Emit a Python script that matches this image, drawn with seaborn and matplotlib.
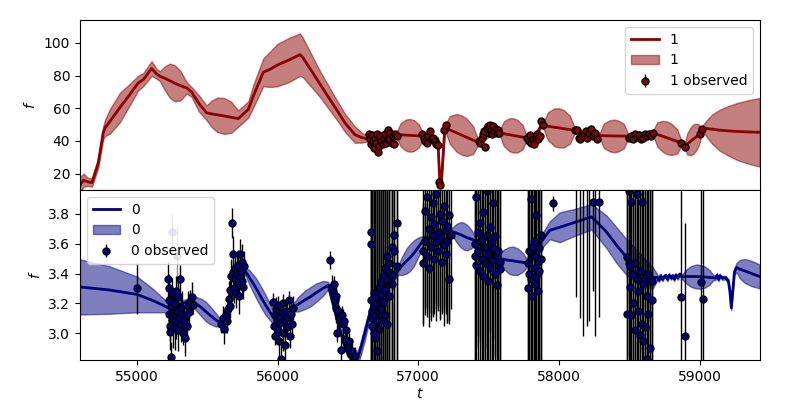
import numpy as np
import matplotlib
matplotlib.use("Agg")
import matplotlib.pyplot as plt
import seaborn as sns

# ---- series "1" (top panel): GP mean, 1-sigma width, observations ----
mean1_t = [54595, 54620, 54650, 54680, 54725, 54760, 54773, 54808, 54879, 54950,
           55009, 55045, 55104, 55140, 55163, 55200, 55235, 55270, 55310, 55353,
           55388, 55440, 55495, 55530, 55570, 55620, 55670, 55720, 55791, 55830,
           55898, 55950, 56000, 56080, 56159, 56180, 56240, 56300, 56360, 56419,
           56480, 56549, 56600, 56640, 56750, 56846, 56874, 56911, 56940, 56968,
           57005, 57033, 57139, 57153, 57165, 57189, 57225, 57272, 57308, 57343,
           57390, 57426, 57500, 57580, 57608, 57646, 57675, 57704, 57742, 57770,
           57830, 57876, 57888, 57922, 57967, 58000, 58034, 58079, 58113, 58200,
           58290, 58320, 58361, 58391, 58421, 58462, 58492, 58580, 58670, 58700,
           58740, 58770, 58800, 58841, 58871, 58895, 58913, 58937, 58954, 58971,
           58995, 59013, 59022, 59050, 59090, 59143, 59200, 59270, 59350, 59428]
mean1_f = [13, 16, 15, 14.5, 26.6, 45, 48, 52, 60.5, 68.5,
           75.5, 77.5, 84.3, 81, 79.6, 78.3, 76.8, 75.3, 73.8, 72.5,
           70, 63, 57.2, 56.6, 56, 55.3, 54.5, 53.7, 59.2, 68,
           82, 84, 86.5, 89.5, 92.8, 91, 83, 75, 67, 59.2,
           51, 43.9, 42, 41.3, 41.5, 43.9, 43.75, 43.6, 43.45, 43.3,
           43.1, 42.9, 41, 15.3, 15.5, 48, 46.7, 45, 43.6, 42.3,
           40.5, 39.2, 44, 44.9, 44.45, 43.85, 43.4, 42.95, 42.35, 41.9,
           42, 50, 49.5, 49, 48.4, 48, 47.5, 46.9, 46.4, 44.5,
           43.3, 43.2, 43.1, 43.1, 43, 43, 42.9, 44, 44.9, 44,
           42.8, 41.9, 41, 39.7, 38.8, 37, 38.2, 39.8, 41, 42.1,
           43.7, 44.9, 47.9, 47.6, 47.2, 46.6, 46.2, 45.8, 45.5, 45.3]
sd1 = [5, 4, 2.5, 2.5, 3, 4, 5, 7.5, 9, 6.5,
       4.5, 4, 4.5, 3, 3, 7.5, 10.5, 11, 9, 3.5,
       3, 5, 4.5, 8, 10.5, 11, 9.5, 5, 5, 7,
       8.5, 11, 13, 13.5, 13, 12, 10, 8, 7, 6,
       5.5, 5, 3, 1.5, 1.5, 1.5, 7, 9.5, 10, 9.5,
       7, 1.5, 1.5, 1.5, 1.5, 1.5, 8.5, 11.5, 12, 11.5,
       8.5, 1.5, 1.5, 1.5, 7.5, 10, 10.5, 10, 7.5, 1.5,
       1.5, 1.5, 1.5, 8.5, 11.5, 12, 11.5, 8.5, 1.5, 1.5,
       1.5, 7.5, 9.5, 10, 9.5, 7.5, 1.5, 1.5, 1.5, 7.5,
       9.5, 10, 9.5, 7.5, 1.5, 1.5, 6.5, 8.5, 9, 8.5,
       6.5, 1.5, 1.5, 5, 9, 12.5, 15, 17.5, 19.5, 21]

obs1_t = [56650, 56658, 56665, 56672, 56680, 56688, 56695, 56702, 56710, 56716,
          56722, 56730, 56738, 56746, 56754, 56762, 56770, 56778, 56786, 56794,
          56802, 56810, 56818, 56826, 56836, 56846,
          57030, 57040, 57050, 57060, 57072, 57082, 57092, 57104, 57116, 57128,
          57138, 57150, 57158, 57180, 57195,
          57430, 57440, 57450, 57460, 57470, 57478, 57486, 57494, 57502, 57510,
          57518, 57526, 57534, 57542, 57550, 57558, 57566, 57576,
          57775, 57785, 57795, 57805, 57815, 57825, 57835, 57845, 57855, 57866,
          57876, 57888,
          58118, 58128, 58140, 58152, 58165, 58178, 58190, 58202, 58214, 58226,
          58240, 58255, 58272,
          58500, 58514, 58528, 58542, 58556, 58570, 58584, 58598, 58612, 58626,
          58640, 58654, 58666,
          58870, 58895, 59005, 59020]
obs1_f = [44, 41, 38, 43.5, 40, 36, 42, 39, 44, 33,
          37, 43, 40, 38, 42, 44.5, 39, 41, 46.5, 41,
          45, 39, 43, 38, 44, 43,
          44, 42, 40, 39, 43, 46, 41, 42, 40, 38,
          37.5, 15, 13, 47, 49.5,
          40, 38.5, 42, 44, 46, 36.5, 48, 49, 45, 50,
          47, 44, 49, 46, 47.5, 45, 46.5, 45,
          42, 40, 43.5, 39, 41, 38, 42, 44, 41, 43,
          52, 49.5,
          46.5, 47, 42, 41, 43, 44.5, 46, 42, 45, 47.5,
          43, 45, 41.5,
          42, 43, 41, 44, 42.5, 43.5, 41, 42, 44, 43,
          44.5, 43, 45,
          38.5, 36.5, 44, 47.5]
obs1_err = [1.5, 1.5, 2, 1.5, 1.5, 2, 1.5, 4, 1.5, 2,
            1.5, 1.5, 2, 1.5, 1.5, 1.5, 2, 1.5, 1.5, 1.5,
            1.5, 2, 1.5, 1.5, 1.5, 1.5,
            1.5, 1.5, 1.5, 1.5, 1.5, 1.5, 1.5, 1.5, 1.5, 1.5,
            1.5, 1.5, 1.5, 1.5, 1.5,
            1.5, 1.5, 1.5, 1.5, 1.5, 1.5, 1.5, 1.5, 1.5, 1.5,
            1.5, 1.5, 1.5, 1.5, 1.5, 1.5, 1.5, 1.5,
            1.5, 1.5, 1.5, 1.5, 1.5, 1.5, 1.5, 1.5, 1.5, 1.5,
            1.5, 1.5,
            1.5, 1.5, 1.5, 1.5, 1.5, 1.5, 1.5, 1.5, 1.5, 1.5,
            1.5, 1.5, 1.5,
            1.5, 1.5, 1.5, 1.5, 1.5, 2.5, 1.5, 1.5, 1.5, 1.5,
            1.5, 1.5, 1.5,
            1.5, 1.5, 1.5, 1.5]

# ---- series "0" (bottom panel) ----
mean0_t = [54595, 54800, 55000, 55110, 55180, 55220, 55300, 55390, 55420, 55460,
           55490, 55520, 55560, 55590, 55680, 55768, 55802, 55848, 55880, 55914,
           55960, 55995, 56050, 56110, 56148, 56198, 56235, 56272, 56322, 56360,
           56420, 56480, 56540, 56580, 56620, 56668, 56760, 56857, 56883, 56918,
           56945, 56972, 57007, 57033, 57140, 57246, 57270, 57302, 57325, 57348,
           57380, 57402, 57490, 57580, 57608, 57646, 57675, 57704, 57742, 57770,
           57850, 57935, 58006, 58120, 58232, 58338, 58410, 58480, 58580, 58668,
           58700, 58712, 58724, 58736, 58748, 58760, 58772, 58784, 58796, 58808,
           58820, 58832, 58845, 58858, 58875, 58910, 58940, 58975, 59005, 59040,
           59070, 59096, 59115, 59125, 59135, 59145, 59160, 59185, 59205, 59216,
           59226, 59236, 59248, 59262, 59285, 59320, 59370, 59428]
mean0_f = [3.31, 3.29, 3.26, 3.22, 3.19, 3.17, 3.19, 3.22, 3.198, 3.17,
           3.145, 3.12, 3.09, 3.07, 3.25, 3.42, 3.37, 3.30, 3.245, 3.19,
           3.12, 3.07, 3.12, 3.17, 3.195, 3.225, 3.245, 3.27, 3.30, 3.32,
           3.10, 2.90, 2.80, 2.86, 3.00, 3.18, 3.30, 3.42, 3.45, 3.485,
           3.51, 3.54, 3.585, 3.62, 3.66, 3.68, 3.672, 3.66, 3.65, 3.64,
           3.63, 3.62, 3.56, 3.50, 3.495, 3.488, 3.485, 3.48, 3.475, 3.47,
           3.58, 3.69, 3.71, 3.745, 3.78, 3.68, 3.59, 3.51, 3.43, 3.37,
           3.375, 3.355, 3.385, 3.36, 3.378, 3.388, 3.36, 3.39, 3.37, 3.385,
           3.362, 3.39, 3.37, 3.395, 3.378, 3.38, 3.38, 3.38, 3.378, 3.376,
           3.374, 3.372, 3.37, 3.39, 3.36, 3.385, 3.37, 3.372, 3.35, 3.28,
           3.17, 3.28, 3.41, 3.44, 3.43, 3.418, 3.40, 3.38]
sd0 = [0.185, 0.16, 0.12, 0.08, 0.05, 0.03, 0.02, 0.025, 0.045, 0.06,
       0.065, 0.06, 0.045, 0.025, 0.02, 0.025, 0.05, 0.067, 0.07, 0.067,
       0.05, 0.025, 0.02, 0.025, 0.05, 0.062, 0.065, 0.062, 0.05, 0.025,
       0.02, 0.02, 0.03, 0.045, 0.05, 0.03, 0.03, 0.03, 0.06, 0.085,
       0.09, 0.085, 0.06, 0.03, 0.03, 0.03, 0.06, 0.085, 0.09, 0.085,
       0.06, 0.03, 0.03, 0.03, 0.065, 0.09, 0.095, 0.09, 0.065, 0.03,
       0.04, 0.06, 0.10, 0.09, 0.085, 0.11, 0.12, 0.12, 0.10, 0.07,
       0.02, 0.012, 0.012, 0.012, 0.012, 0.012, 0.012, 0.012, 0.012, 0.012,
       0.012, 0.012, 0.012, 0.012, 0.015, 0.05, 0.07, 0.08, 0.08, 0.07,
       0.05, 0.02, 0.012, 0.012, 0.012, 0.012, 0.012, 0.012, 0.012, 0.012,
       0.015, 0.015, 0.02, 0.03, 0.06, 0.08, 0.085, 0.08]

obs0_t = [55000,
          # season around 55300
          55222, 55225, 55228, 55230, 55233, 55236, 55240, 55243, 55247, 55250,
          55255, 55260, 55264, 55268, 55272, 55276, 55280, 55285, 55290, 55295,
          55300, 55305, 55310, 55315, 55320, 55328, 55335, 55342, 55350, 55358,
          55365, 55372, 55380, 55388, 55395,
          # 55700
          55600, 55610, 55620, 55630, 55640, 55650, 55655, 55660, 55665, 55670,
          55675, 55680, 55685, 55690, 55695, 55700, 55705, 55710, 55715, 55720,
          55725, 55730, 55735, 55740, 55745, 55750, 55755, 55760,
          # 56050
          55965, 55972, 55978, 55984, 55990, 55995, 56000, 56005, 56010, 56015,
          56020, 56025, 56030, 56035, 56040, 56046, 56052, 56058, 56064, 56070,
          56078, 56085, 56092, 56100, 56108,
          # 56450
          56370, 56385, 56392, 56398, 56405, 56412, 56418, 56425, 56432, 56440,
          56448, 56455, 56462, 56470, 56478, 56486, 56494, 56502, 56510, 56520,
          56530, 56540, 56550,
          # 56750
          56662, 56662, 56662, 56672, 56672, 56672, 56684, 56684, 56684, 56695,
          56695, 56695, 56708, 56708, 56708, 56720, 56720, 56720, 56734, 56734,
          56734, 56748, 56748, 56748, 56762, 56762, 56762, 56778, 56778, 56778,
          56795, 56795, 56795, 56812, 56812, 56812, 56830, 56830, 56848, 56848,
          # 57130
          57035, 57035, 57048, 57048, 57062, 57062, 57075, 57075, 57088, 57088,
          57102, 57102, 57115, 57115, 57128, 57128, 57142, 57142, 57155, 57155,
          57168, 57168, 57182, 57182, 57195, 57195, 57208, 57208, 57222, 57222,
          57236,
          # 57500
          57402, 57402, 57414, 57414, 57426, 57426, 57438, 57438, 57450, 57450,
          57462, 57462, 57474, 57474, 57486, 57486, 57498, 57498, 57510, 57510,
          57522, 57522, 57534, 57534, 57546, 57546, 57558, 57558, 57570, 57570,
          57582, 57582,
          # 57830
          57780, 57780, 57790, 57790, 57800, 57800, 57810, 57810, 57820, 57820,
          57830, 57830, 57840, 57840, 57850, 57850, 57860, 57860, 57870, 57870,
          57957,
          # 58200
          58125, 58150, 58172, 58200, 58215, 58240, 58255, 58286,
          # 58580
          58485, 58485, 58495, 58495, 58505, 58505, 58516, 58516, 58528, 58528,
          58540, 58540, 58552, 58552, 58564, 58564, 58576, 58576, 58588, 58588,
          58600, 58600, 58612, 58612, 58624, 58624, 58636, 58636, 58648, 58648,
          58660, 58660,
          58871, 58895, 59013, 59022]
obs0_f = [3.30,
          3.36, 3.30, 3.22, 3.13, 3.05, 3.01, 2.84, 3.18, 3.27, 3.09,
          3.10, 3.14, 3.20, 3.04, 3.12, 3.28, 3.08, 3.15, 3.02, 3.24,
          3.11, 3.36, 3.06, 3.17, 3.13, 3.00, 3.09, 2.97, 3.12, 3.05,
          3.18, 3.14, 3.21, 3.24, 3.19,
          3.06, 3.10, 3.03, 3.12, 3.08, 3.16, 3.23, 3.18, 3.29, 3.38,
          3.74, 3.53, 3.41, 3.30, 3.36, 3.44, 3.27, 3.40, 3.33, 3.46,
          3.25, 3.38, 3.53, 3.42, 3.35, 3.48, 3.31, 3.45,
          3.21, 3.05, 3.12, 2.98, 3.16, 3.08, 3.02, 3.19, 2.95, 3.11,
          3.07, 2.83, 3.14, 3.00, 3.20, 3.09, 2.92, 3.15, 3.04, 3.10,
          3.22, 2.98, 3.13, 3.06, 3.17,
          3.49, 3.31, 3.28, 3.33, 3.22, 3.25, 3.17, 3.00, 3.15, 3.10,
          2.89, 3.12, 3.06, 3.08, 2.96, 3.02, 2.93, 2.90, 2.95, 2.86,
          2.88, 2.84, 2.85,
          3.68, 3.60, 3.22, 3.10, 3.15, 3.05, 3.27, 3.00, 3.18, 3.12,
          2.97, 3.24, 3.08, 3.20, 2.88, 3.14, 3.30, 3.03, 3.26, 3.16,
          3.34, 3.09, 3.21, 3.38, 3.12, 3.44, 3.29, 3.06, 3.36, 3.52,
          3.25, 3.41, 3.47, 3.33, 3.58, 3.39, 3.55, 3.66, 3.45, 3.74,
          3.55, 3.47, 3.82, 3.62, 3.91, 3.52, 3.70, 3.44, 3.78, 3.58,
          3.66, 3.87, 3.50, 3.73, 3.61, 3.93, 3.68, 3.55, 3.80, 3.64,
          3.48, 3.75, 3.59, 3.85, 3.69, 3.53, 3.72, 3.62, 3.79, 3.36,
          3.66,
          3.52, 3.60, 3.46, 3.91, 3.68, 3.55, 3.42, 3.74, 3.63, 3.50,
          3.38, 3.81, 3.58, 3.47, 3.66, 3.95, 3.53, 3.35, 3.71, 3.44,
          3.61, 3.49, 3.87, 3.57, 3.40, 3.65, 3.52, 3.32, 3.46, 3.55,
          3.43, 3.48,
          3.47, 3.30, 3.55, 3.40, 3.90, 3.36, 3.58, 3.25, 3.44, 3.62,
          3.33, 3.52, 3.38, 3.79, 3.48, 3.28, 3.57, 3.42, 3.66, 3.50,
          3.87,
          4.20, 4.30, 4.10, 4.25, 4.15, 3.88, 4.30, 3.88,
          3.51, 3.13, 3.47, 3.95, 3.31, 3.45, 3.88, 3.12, 3.40, 3.20,
          3.47, 3.02, 3.36, 3.93, 3.28, 3.15, 2.99, 3.42, 3.06, 3.88,
          3.33, 2.95, 3.37, 3.04, 3.25, 2.83, 3.40, 3.13, 2.90, 3.37,
          3.22, 3.35,
          3.24, 2.98, 3.34, 3.23]
obs0_err = [0.17,
            0.12, 0.10, 0.15, 0.08, 0.10, 0.12, 0.10, 0.14, 0.10, 0.08,
            0.20, 0.12, 0.10, 0.15, 0.08, 0.10, 0.12, 0.10, 0.14, 0.10,
            0.08, 0.10, 0.12, 0.10, 0.15, 0.08, 0.10, 0.12, 0.10, 0.08,
            0.10, 0.12, 0.08, 0.10, 0.06,
            0.06, 0.08, 0.10, 0.06, 0.08, 0.10, 0.12, 0.08, 0.10, 0.12,
            0.10, 0.12, 0.08, 0.10, 0.12, 0.08, 0.10, 0.15, 0.08, 0.10,
            0.12, 0.08, 0.10, 0.06, 0.10, 0.12, 0.08, 0.10,
            0.06, 0.08, 0.10, 0.06, 0.08, 0.12, 0.08, 0.06, 0.10, 0.08,
            0.06, 0.10, 0.08, 0.12, 0.06, 0.08, 0.10, 0.06, 0.08, 0.10,
            0.06, 0.08, 0.10, 0.06, 0.08,
            0.06, 0.08, 0.06, 0.05, 0.08, 0.06, 0.10, 0.06, 0.08, 0.06,
            0.08, 0.06, 0.10, 0.06, 0.08, 0.06, 0.08, 0.06, 0.05, 0.06,
            0.08, 0.05, 0.06,
            1.20, 1.50, 1.10, 1.30, 1.20, 1.40, 1.00, 1.20, 1.60, 1.10,
            1.10, 1.30, 1.20, 1.50, 1.20, 1.00, 1.40, 1.10, 1.10, 1.30,
            1.20, 1.10, 1.50, 1.10, 1.30, 1.00, 1.20, 1.40, 1.10, 1.10,
            1.30, 1.00, 1.20, 1.10, 1.50, 1.10, 1.00, 1.30, 1.00, 1.20,
            0.50, 0.40, 0.70, 0.45, 0.80, 0.35, 0.60, 0.40, 0.65, 0.50,
            0.55, 0.75, 0.30, 0.60, 0.45, 0.85, 0.50, 0.40, 0.70, 0.55,
            0.35, 0.60, 0.45, 0.80, 0.50, 0.40, 0.65, 0.55, 0.70, 0.30,
            0.50,
            0.90, 0.80, 1.10, 1.00, 0.70, 0.95, 1.05, 0.80, 0.90, 1.15,
            0.85, 1.00, 0.75, 1.10, 0.90, 1.05, 0.80, 0.95, 0.70, 1.00,
            0.85, 1.10, 0.90, 0.75, 1.05, 0.80, 0.95, 0.70, 1.00, 0.85,
            0.90, 0.80,
            1.00, 1.10, 0.90, 1.20, 1.30, 1.00, 0.90, 1.10, 1.20, 1.00,
            0.90, 1.10, 1.00, 1.40, 1.00, 1.20, 0.90, 1.10, 1.00, 1.20,
            0.05,
            0.96, 1.20, 1.12, 1.20, 1.07, 0.60, 1.32, 0.77,
            1.20, 1.00, 1.40, 1.10, 1.30, 1.00, 1.20, 1.50, 1.10, 1.30,
            1.00, 1.20, 1.40, 1.10, 1.30, 1.00, 1.20, 1.10, 1.40, 1.00,
            1.30, 1.20, 1.10, 1.50, 1.00, 1.30, 1.20, 1.10, 1.40, 1.00,
            1.20, 1.30,
            1.00, 0.76, 1.00, 1.10]

# two faded points in the lower panel
faded0_t = [55246, 55286]
faded0_f = [3.68, 3.52]
faded0_err = [0.12, 0.19]

fig, (ax1, ax0) = plt.subplots(2, 1, figsize=(8, 4), dpi=100, sharex=True)
fig.subplots_adjust(left=0.1, right=0.95, top=0.95, bottom=0.1, hspace=0)


def draw(ax, mt, mf, sd, ot, of, oe, color, name):
    mt = np.array(mt)
    mf = np.array(mf)
    sd = np.array(sd)
    sns.lineplot(x=mt, y=mf, ax=ax, color=color, lw=2, label=name,
                 estimator=None, sort=False)
    ax.fill_between(mt, mf - sd, mf + sd, color=color, alpha=0.5, label=name)
    ax.errorbar(ot, of, yerr=oe, fmt='o', color=color, mec='k', ecolor='k',
                ms=5, mew=1, elinewidth=1, label=name + ' observed')


draw(ax1, mean1_t, mean1_f, sd1, obs1_t, obs1_f, obs1_err, 'darkred', '1')
draw(ax0, mean0_t, mean0_f, sd0, obs0_t, obs0_f, obs0_err, 'navy', '0')
ax0.errorbar(faded0_t, faded0_f, yerr=faded0_err, fmt='o', color='navy',
             mec='k', ecolor='k', ms=5, mew=1, elinewidth=1, alpha=0.45)

ax1.set_ylim(10, 114)
ax1.set_yticks([20, 40, 60, 80, 100])
ax0.set_ylim(2.82, 3.96)
ax0.set_yticks([3.0, 3.2, 3.4, 3.6, 3.8])
ax0.set_xlim(54595, 59430)
ax0.set_xticks([55000, 56000, 57000, 58000, 59000])

ax1.set_ylabel('$f$')
ax0.set_ylabel('$f$')
ax0.set_xlabel('$t$', labelpad=2)
ax1.set_xlabel('')

ax1.legend(loc='upper right')
ax0.legend(loc='upper left')

fig.savefig('out.png', dpi=100)
